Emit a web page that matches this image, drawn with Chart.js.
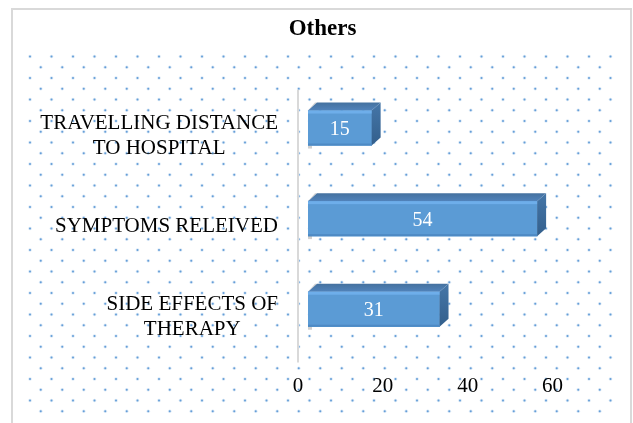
<!DOCTYPE html>
<html>
<head>
<meta charset="utf-8">
<title>Others</title>
<script src="https://cdn.jsdelivr.net/npm/chart.js@4.4.1/dist/chart.umd.min.js"></script>
<style>
  body { margin: 0; background: #fff; }
  #wrap { width: 633px; height: 423px; }
</style>
</head>
<body>
<div id="wrap"><canvas id="othersChart" width="633" height="423"></canvas></div>
<script>
// reasons, one entry per bar (each entry is the lines of its label)
var categories = [
  ['TRAVELLING DISTANCE', 'TO HOSPITAL'],
  ['SYMPTOMS RELEIVED'],
  ['SIDE EFFECTS OF', 'THERAPY']
];
var counts = [15, 54, 31];
var xTicks = [0, 20, 40, 60];

var serif = "'Liberation Serif', 'Times New Roman', serif";
var depthX = 9, depthY = 8;

// white sheet, light frame and the dotted fill behind everything
var paperPlugin = {
  id: 'paper',
  beforeDraw: function(chart) {
    var ctx = chart.ctx;
    ctx.save();
    ctx.fillStyle = '#fff';
    ctx.fillRect(0, 0, chart.width, chart.height);
    ctx.strokeStyle = '#d9d9d9';
    ctx.lineWidth = 2;
    ctx.strokeRect(12, 9, 619, 430);

    for (var row = 0; row <= 33; row++) {
      var y = 56.5 + row * 10.75;
      var x0 = row % 2 ? 40.75 : 30;
      for (var x = x0; x <= 620; x += 21.5) {
        ctx.fillStyle = 'rgba(91,155,213,0.22)';
        ctx.beginPath();
        ctx.arc(x, y, 1.8, 0, Math.PI * 2);
        ctx.fill();
        ctx.fillStyle = 'rgba(80,145,210,0.85)';
        ctx.beginPath();
        ctx.arc(x, y, 1.0, 0, Math.PI * 2);
        ctx.fill();
      }
    }
    ctx.restore();
  }
};

// axis line, 3d caps on the bars, value labels and category labels
var barsPlugin = {
  id: 'bars3d',
  beforeDatasetsDraw: function(chart) {
    var ctx = chart.ctx;
    var area = chart.chartArea;
    var x0 = chart.scales.x.getPixelForValue(0) - 10;
    ctx.save();
    ctx.strokeStyle = '#d9d9d9';
    ctx.lineWidth = 2;
    ctx.beginPath();
    ctx.moveTo(x0, area.top + 7);
    ctx.lineTo(x0, area.bottom + 8);
    ctx.stroke();
    ctx.restore();
  },
  afterDatasetsDraw: function(chart) {
    var ctx = chart.ctx;
    var meta = chart.getDatasetMeta(0);
    ctx.save();
    meta.data.forEach(function(bar, i) {
      var p = bar.getProps(['x', 'y', 'base', 'height'], true);
      var top = p.y - p.height / 2;
      var bottom = p.y + p.height / 2;

      // soft shadow at the back left corner
      ctx.fillStyle = 'rgba(120,120,120,0.35)';
      ctx.beginPath();
      ctx.moveTo(p.base - 1, top + 1);
      ctx.lineTo(p.base + depthX - 2, top - depthY);
      ctx.lineTo(p.base + depthX, top - depthY);
      ctx.lineTo(p.base, top);
      ctx.closePath();
      ctx.fill();
      ctx.fillRect(p.base, bottom, 4, 3);

      // top face
      var gTop = ctx.createLinearGradient(0, top - depthY, 0, top);
      gTop.addColorStop(0, '#44719f');
      gTop.addColorStop(1, '#5183bb');
      ctx.fillStyle = gTop;
      ctx.beginPath();
      ctx.moveTo(p.base, top);
      ctx.lineTo(p.base + depthX, top - depthY);
      ctx.lineTo(p.x + depthX, top - depthY);
      ctx.lineTo(p.x, top);
      ctx.closePath();
      ctx.fill();

      // right face
      var gSide = ctx.createLinearGradient(0, top - depthY, 0, bottom);
      gSide.addColorStop(0, '#4576a8');
      gSide.addColorStop(1, '#335f8c');
      ctx.fillStyle = gSide;
      ctx.beginPath();
      ctx.moveTo(p.x, top);
      ctx.lineTo(p.x + depthX, top - depthY);
      ctx.lineTo(p.x + depthX, bottom - depthY);
      ctx.lineTo(p.x, bottom);
      ctx.closePath();
      ctx.fill();

      // highlight along the front edge
      ctx.fillStyle = '#6eaeea';
      ctx.fillRect(p.base, top, p.x - p.base, 3);
      ctx.fillStyle = '#4e8ac4';
      ctx.fillRect(p.base, bottom - 2, p.x - p.base, 2);

      ctx.fillStyle = '#fff';
      ctx.font = '20px ' + serif;
      ctx.textAlign = 'center';
      ctx.textBaseline = 'middle';
      ctx.fillText(String(counts[i]), (p.base + p.x) / 2, p.y + 2);
    });

    // category labels: lines centred on each other, block right-aligned
    var yScale = chart.scales.y;
    var right = chart.scales.x.getPixelForValue(0) - 30;
    ctx.fillStyle = '#000';
    ctx.font = '21px ' + serif;
    ctx.textBaseline = 'middle';
    ctx.textAlign = 'center';
    categories.forEach(function(lines, i) {
      var w = 0;
      lines.forEach(function(l) { w = Math.max(w, ctx.measureText(l).width); });
      var cx = right - w / 2;
      var cy = yScale.getPixelForValue(i) + 8;
      var start = cy - (lines.length - 1) * 25 / 2;
      lines.forEach(function(l, k) {
        ctx.fillText(l, cx, start + k * 25);
      });
    });
    ctx.restore();
  }
};

var ctx = document.getElementById('othersChart').getContext('2d');
var othersChart = new Chart(ctx, {
  type: 'bar',
  data: {
    labels: categories,
    datasets: [{
      data: counts,
      backgroundColor: '#5b9bd5',
      borderWidth: 0,
      barThickness: 35
    }]
  },
  options: {
    indexAxis: 'y',
    responsive: false,
    animation: false,
    devicePixelRatio: 1,
    layout: { padding: { left: 40, right: 28, top: 15, bottom: 0 } },
    plugins: {
      legend: { display: false },
      tooltip: { enabled: false },
      title: {
        display: true,
        text: 'Others',
        color: '#000',
        font: { family: serif, size: 23, weight: 'bold' },
        padding: { top: 0, bottom: 40.15 }
      }
    },
    scales: {
      x: {
        min: 0,
        max: 70,
        grid: { display: false, drawTicks: false },
        border: { display: false },
        afterBuildTicks: function(scale) {
          scale.ticks = xTicks.map(function(v) { return { value: v }; });
        },
        afterFit: function(scale) { scale.height = 68.5; },
        ticks: {
          color: '#000',
          font: { family: serif, size: 21 },
          padding: 19,
          labelOffset: -10,
          maxRotation: 0
        }
      },
      y: {
        grid: { display: false, drawTicks: false },
        border: { display: false },
        ticks: { display: false },
        afterFit: function(scale) { scale.width = 268; }
      }
    }
  },
  plugins: [paperPlugin, barsPlugin]
});
</script>
</body>
</html>
